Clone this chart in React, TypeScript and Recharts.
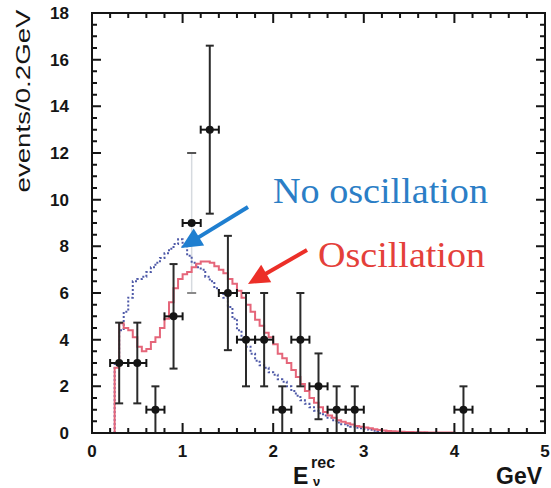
import React from 'react';
import { ComposedChart, ErrorBar, Line, ReferenceLine, Scatter, XAxis, YAxis } from 'recharts';

// measured events, 0.2 GeV bins
const DATA_E = [0.3, 0.5, 0.7, 0.9, 1.1, 1.3, 1.5, 1.7, 1.9, 2.1, 2.3, 2.5, 2.7, 2.9, 4.1];
const DATA_N = [3, 3, 1, 5, 9, 13, 6, 4, 4, 1, 4, 2, 1, 1, 1];
const DATA_ERR = [1.73, 1.73, 1, 2.24, 3, 3.6, 2.45, 2, 2, 1, 2, 1.41, 1, 1, 1];
const DATA_XERR = 0.1;
const FAINT_IDX = 4; // the 1.1 GeV point's vertical bar is printed very light

// expectation histograms, fine bins starting at 0.25 GeV
const HIST_START = 0.25;
const HIST_STEP = 0.05;
const NO_OSC = [
  3.0, 4.4, 5.2, 5.8, 6.5, 6.6, 6.7, 6.9, 7.1, 7.3,
  7.5, 7.7, 7.9, 8.1, 8.3, 8.0, 7.6, 7.3, 7.1, 7.0,
  6.7, 6.5, 6.2, 6.0, 5.8, 5.4, 4.9, 4.4, 4.0, 3.7,
  3.4, 3.1, 2.9, 2.8, 2.6, 2.5, 2.3, 2.2, 2.0, 1.8,
  1.6, 1.4, 1.25, 1.1, 0.95, 0.85, 0.75, 0.65, 0.55, 0.45,
  0.38, 0.32, 0.27, 0.22, 0.2, 0.17, 0.14, 0.1, 0.08, 0.06,
  0.05, 0.04, 0.03, 0.03, 0.02, 0.02, 0.02, 0.01, 0.01, 0,
  0, 0, 0, 0, 0,
];
const OSC = [
  2.8, 4.7, 4.5, 4.4, 4.1, 3.7, 3.5, 3.6, 3.9, 4.1,
  4.5, 4.9, 5.6, 6.2, 6.6, 6.8, 6.9, 7.1, 7.25, 7.35,
  7.35, 7.3, 7.15, 7.0, 6.85, 6.6, 6.4, 6.1, 5.8, 5.5,
  5.2, 4.85, 4.6, 4.3, 4.1, 3.8, 3.4, 3.2, 3.0, 2.7,
  2.4, 2.1, 1.8, 1.5, 1.3, 1.1, 0.9, 0.75, 0.65, 0.55,
  0.48, 0.42, 0.36, 0.3, 0.27, 0.24, 0.2, 0.16, 0.13, 0.11,
  0.09, 0.07, 0.06, 0.05, 0.04, 0.04, 0.03, 0.03, 0.03, 0.02,
  0.02, 0.02, 0.02, 0.02, 0.02,
];

const X_MAX = 5;
const Y_MAX = 18;
const X_LABELS = [0, 1, 2, 3, 4, 5];
const Y_LABELS = [0, 2, 4, 6, 8, 10, 12, 14, 16, 18];
const X_MINOR = Array.from({ length: 26 }, (_, i) => +(i * 0.2).toFixed(1));
const Y_MINOR = Array.from({ length: 37 }, (_, i) => i * 0.5);
const CAP_HALF = 0.05;

// chart box: these set the plot area (left 92..545, top 13..433)
const W = 551;
const H = 488;
const M_TOP = 13;
const M_RIGHT = 6;
const Y_AXIS_W = 92;
const X_AXIS_H = 55;
const PLOT_L = Y_AXIS_W;
const PLOT_R = W - M_RIGHT;
const PLOT_T = M_TOP;
const PLOT_B = H - X_AXIS_H;

const BLUE_LINE = '#4f5aa8';
const RED_LINE = '#e5667a';
const INK = '#151515';
const TICK_FONT = '"Liberation Sans", Arial, sans-serif';
const SERIF = '"Liberation Serif", "DejaVu Serif", serif';

const toHist = (vals: number[]) => {
  const pts = [{ x: HIST_START, y: 0 }];
  vals.forEach((v, i) => pts.push({ x: +(HIST_START + i * HIST_STEP).toFixed(2), y: v }));
  pts.push({ x: +(HIST_START + vals.length * HIST_STEP).toFixed(2), y: 0 });
  return pts;
};

const points = DATA_E.map((x, i) => ({
  x,
  y: DATA_N[i],
  ey: i === FAINT_IDX ? 0 : DATA_ERR[i],
  ex: DATA_XERR,
}));

const isMajor = (v: number, labels: number[]) => labels.some((l) => Math.abs(l - v) < 1e-6);

const BottomLabel = ({ x, y, payload }: any) => (
  <text x={x} y={y + 24} textAnchor="middle" fontFamily={TICK_FONT} fontWeight="bold" fontSize={17} fill={INK}>
    {payload.value}
  </text>
);

const LeftLabel = ({ x, y, payload }: any) => (
  <text x={x - 23} y={y} dy="0.36em" textAnchor="end" fontFamily={TICK_FONT} fontWeight="bold" fontSize={17} fill={INK}>
    {payload.value}
  </text>
);

const Dot = ({ cx, cy }: any) => <circle cx={cx} cy={cy} r={4} fill={INK} />;

const Arrow = ({ from, to, color }: { from: [number, number]; to: [number, number]; color: string }) => {
  const dx = to[0] - from[0];
  const dy = to[1] - from[1];
  const len = Math.hypot(dx, dy);
  const ux = dx / len;
  const uy = dy / len;
  const head = 21;
  const half = 10;
  const bx = to[0] - ux * head;
  const by = to[1] - uy * head;
  const pts = `${to[0]},${to[1]} ${bx - uy * half},${by + ux * half} ${bx + uy * half},${by - ux * half}`;
  return (
    <g>
      <line x1={from[0]} y1={from[1]} x2={bx + ux * 2} y2={by + uy * 2} stroke={color} strokeWidth={4} />
      <polygon points={pts} fill={color} />
    </g>
  );
};

// frame with inward ticks on all four sides
const Frame = () => {
  const px = (v: number) => PLOT_L + (v / X_MAX) * (PLOT_R - PLOT_L);
  const py = (v: number) => PLOT_B - (v / Y_MAX) * (PLOT_B - PLOT_T);
  let d = '';
  X_MINOR.forEach((v) => {
    const l = isMajor(v, X_LABELS) ? 10 : 5;
    const x = px(v);
    d += `M${x},${PLOT_B}v${-l}M${x},${PLOT_T}v${l}`;
  });
  Y_MINOR.forEach((v) => {
    const l = isMajor(v, Y_LABELS) ? 9 : 5;
    const y = py(v);
    d += `M${PLOT_L},${y}h${l}M${PLOT_R},${y}h${-l}`;
  });
  return (
    <g>
      <path d={d} stroke={INK} strokeWidth={2} fill="none" />
      <rect x={PLOT_L} y={PLOT_T} width={PLOT_R - PLOT_L} height={PLOT_B - PLOT_T} stroke={INK} strokeWidth={2} fill="none" />
    </g>
  );
};

const seg = (a: { x: number; y: number }, b: { x: number; y: number }, key: string, stroke: string, w: number) => (
  <ReferenceLine key={key} segment={[a, b]} stroke={stroke} strokeWidth={w} ifOverflow="visible" />
);

export default function App() {
  // light vertical bar of the 1.1 GeV point
  const fx = DATA_E[FAINT_IDX];
  const fLo = DATA_N[FAINT_IDX] - DATA_ERR[FAINT_IDX];
  const fHi = DATA_N[FAINT_IDX] + DATA_ERR[FAINT_IDX];
  const faint = [
    seg({ x: fx, y: fLo }, { x: fx, y: fHi }, 'fv', '#d6dadf', 1.5),
    seg({ x: fx - CAP_HALF, y: fHi }, { x: fx + CAP_HALF, y: fHi }, 'fh', '#555', 2),
    seg({ x: fx - CAP_HALF, y: fLo }, { x: fx + CAP_HALF, y: fLo }, 'fl', '#8a8a8a', 2),
  ];

  return (
    <div style={{ position: 'absolute', left: 0, top: 0, width: W, height: H, background: '#fff' }}>
      <ComposedChart width={W} height={H} margin={{ top: M_TOP, right: M_RIGHT, bottom: 0, left: 0 }}>
        <XAxis
          dataKey="x"
          type="number"
          domain={[0, X_MAX]}
          allowDataOverflow
          ticks={X_LABELS}
          interval={0}
          tickSize={0}
          tickMargin={0}
          tickLine={false}
          tick={BottomLabel}
          height={X_AXIS_H}
          axisLine={{ stroke: INK, strokeWidth: 2 }}
        />
        <YAxis
          type="number"
          domain={[0, Y_MAX]}
          allowDataOverflow
          ticks={Y_LABELS}
          interval={0}
          tickSize={0}
          tickMargin={0}
          tickLine={false}
          tick={LeftLabel}
          width={Y_AXIS_W}
          axisLine={{ stroke: INK, strokeWidth: 2 }}
        />
        {faint}
        <Line
          data={toHist(NO_OSC)}
          dataKey="y"
          type="stepAfter"
          stroke={BLUE_LINE}
          strokeWidth={2}
          strokeDasharray="2 2"
          dot={false}
          activeDot={false}
          isAnimationActive={false}
        />
        <Line
          data={toHist(OSC)}
          dataKey="y"
          type="stepAfter"
          stroke={RED_LINE}
          strokeWidth={2}
          dot={false}
          activeDot={false}
          isAnimationActive={false}
        />
        <Scatter data={points} dataKey="y" shape={Dot} isAnimationActive={false}>
          <ErrorBar dataKey="ey" direction="y" width={4} stroke="#2a2a2a" strokeWidth={2} />
          <ErrorBar dataKey="ex" direction="x" width={4} stroke={INK} strokeWidth={2} />
        </Scatter>
      </ComposedChart>
      <svg width={W} height={H} style={{ position: 'absolute', left: 0, top: 0, pointerEvents: 'none' }}>
        <Frame />
        <text
          transform="translate(30,101) rotate(-90)"
          textAnchor="middle"
          fontFamily={TICK_FONT}
          fontSize={20}
          textLength={183}
          lengthAdjust="spacingAndGlyphs"
          fill={INK}
        >
          events/0.2GeV
        </text>
        <text x={293} y={484} fontFamily={TICK_FONT} fontWeight="bold" fontSize={23} fill={INK}>E</text>
        <text x={311} y={468} fontFamily={TICK_FONT} fontWeight="bold" fontSize={16} fill={INK}>rec</text>
        <text x={313} y={486} fontFamily={TICK_FONT} fontWeight="bold" fontSize={13} fill={INK}>ν</text>
        <text x={496} y={484} fontFamily={TICK_FONT} fontWeight="bold" fontSize={23} fill={INK}>GeV</text>

        <text x={273} y={203} fontFamily={SERIF} fontSize={35} textLength={215} lengthAdjust="spacingAndGlyphs" fill="#2b7ec6">
          No oscillation
        </text>
        <text x={318} y={267} fontFamily={SERIF} fontSize={35} textLength={167} lengthAdjust="spacingAndGlyphs" fill="#e4403a">
          Oscillation
        </text>
        <Arrow from={[248, 207]} to={[181, 248]} color="#1f7fd0" />
        <Arrow from={[307, 250]} to={[248, 284]} color="#ec2f28" />
      </svg>
    </div>
  );
}
